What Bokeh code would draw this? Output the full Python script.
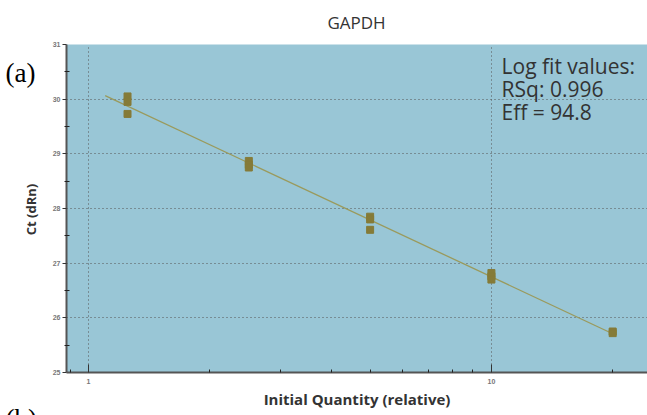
import numpy as np
from bokeh.plotting import figure
from bokeh.models import Label, Range1d, FixedTicker, BasicTickFormatter
from bokeh.embed import file_html
from bokeh.resources import INLINE

# ---- data ----
quantity = [1.25, 1.25, 1.25, 2.5, 2.5, 2.5, 5, 5, 5, 10, 10, 10, 20, 20]
ct = [30.05, 29.95, 29.73, 28.87, 28.80, 28.75, 27.85, 27.80, 27.61,
      26.82, 26.76, 26.70, 25.75, 25.72]
fit_x = [1.1, 20]
title_text = "GAPDH"
y_label = "Ct (dRn)"
x_label = "Initial Quantity (relative)"
panel_letters = "(a)\n(b)"
fit_text = ["Log fit values:", "RSq: 0.996", "Eff = 94.8"]
y_ticks = [25, 26, 27, 28, 29, 30, 31]
y_minor = [25.5, 26.5, 27.5, 28.5, 29.5, 30.5]
x_ticks = [1, 10]
x_minor = [0.9, 2, 3, 4, 5, 6, 7, 8, 9, 20]

# regression of Ct on log10(quantity)
slope, intercept = np.polyfit(np.log10(quantity), ct, 1)
fit_y = [slope * np.log10(v) + intercept for v in fit_x]

W, H = 647, 415
p = figure(width=W, height=H, x_axis_type="log", output_backend="svg",
           toolbar_location=None,
           x_range=Range1d(0.882, 24.4), y_range=Range1d(25, 31),
           min_border_left=66, min_border_right=0, min_border_top=44,
           min_border_bottom=43)
p.background_fill_color = "#99c6d6"
p.border_fill_color = "white"
p.outline_line_color = None
p.title.text = ""
p.title.visible = False

# grids
for g in (p.xgrid, p.ygrid):
    g.grid_line_color = "#555555"
    g.grid_line_dash = "1 3"
    g.grid_line_width = 1
p.ygrid.ticker = FixedTicker(ticks=y_ticks)
p.xgrid.ticker = FixedTicker(ticks=x_ticks)

# axes
p.yaxis.ticker = FixedTicker(ticks=y_ticks, minor_ticks=y_minor)
p.xaxis.ticker = FixedTicker(ticks=x_ticks, minor_ticks=x_minor)
p.xaxis.formatter = BasicTickFormatter()
for ax in (p.xaxis, p.yaxis):
    ax.axis_line_color = "#555555"
    ax.axis_line_width = 2
    ax.major_tick_line_color = "#333333"
    ax.minor_tick_line_color = "#222222"
    ax.major_label_text_font = "Liberation Sans"
    ax.major_label_text_font_size = "7px"
    ax.major_label_text_font_style = "bold"
    ax.major_label_text_color = "#777777"
    ax.axis_label_text_font = "Open Sans"
    ax.axis_label_text_font_style = "bold"
    ax.axis_label_text_color = "#333333"

p.yaxis.major_tick_out = 4
p.yaxis.major_tick_in = 0
p.yaxis.minor_tick_in = 3
p.yaxis.minor_tick_out = 2
p.yaxis.major_label_standoff = 2

p.xaxis.axis_label = x_label
p.xaxis.axis_label_text_font_size = "15px"
p.xaxis.major_tick_out = 0
p.xaxis.major_tick_in = 8
p.xaxis.minor_tick_in = 3
p.xaxis.minor_tick_out = 0
p.xaxis.major_label_standoff = 6
p.xaxis.axis_label_standoff = 2

# fit line and points
p.line(fit_x, fit_y, line_color="#9a9a5c", line_width=1.3)
p.scatter(quantity, ct, marker="square", size=7, fill_color="#857b38",
          line_color="#857b38")

# fit values text
for i, t in enumerate(fit_text):
    p.add_layout(Label(x=10.6, y=30.86 - i * 0.42, text=t, text_font="Open Sans",
                       text_font_size="21px", text_color="#333333",
                       text_baseline="top"))

# texts outside the frame: canvas-positioned labels kept in side panels
p.add_layout(Label(x=5, y=57, x_units="canvas", y_units="canvas",
                   text=panel_letters, text_line_height=11.54,
                   text_font="Liberation Serif", text_font_size="27px",
                   text_color="black", text_baseline="top"), "left")
p.add_layout(Label(x=30, y=209, x_units="canvas", y_units="canvas",
                   text=y_label, angle=np.pi / 2, text_font="Open Sans",
                   text_font_size="13px", text_font_style="bold",
                   text_color="#333333", text_align="center",
                   text_baseline="middle"), "left")
p.add_layout(Label(x=356, y=22, x_units="canvas", y_units="canvas",
                   text=title_text, text_font="Open Sans", text_font_size="17px",
                   text_color="#333333", text_align="center",
                   text_baseline="middle"), "above")

open("out.html", "w").write(file_html(p, INLINE))
